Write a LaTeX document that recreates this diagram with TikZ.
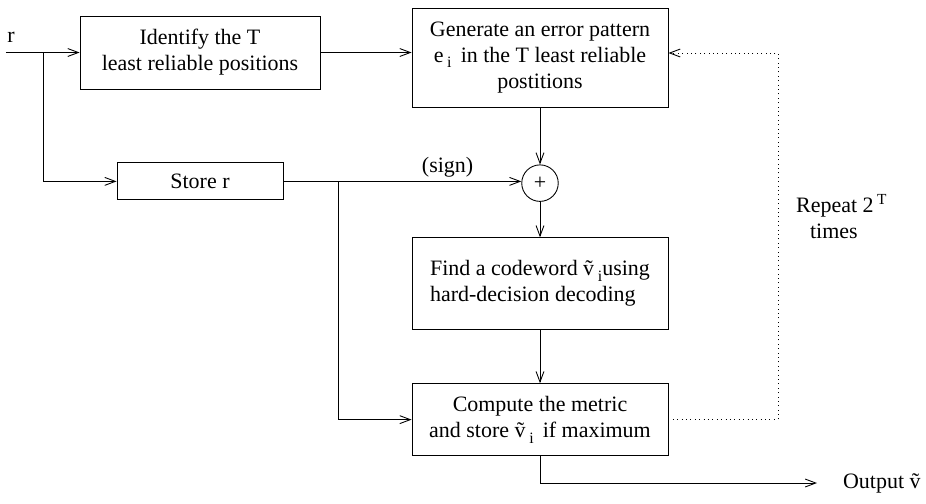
\documentclass[tikz,border=0pt]{standalone}
\usepackage{fontspec}
\setmainfont{Liberation Serif}
\usetikzlibrary{arrows.meta, positioning, calc}
\newcommand{\lowsub}[1]{\raisebox{-0.55ex}{\fontsize{9}{9}\selectfont #1}}
\tikzset{
  box/.style={rectangle, draw=black, line width=0.5pt, align=center,
              minimum width=#1, inner sep=2pt,
              font=\fontsize{12.5}{14.8}\selectfont},
  box/.default=5.12cm,
  sumnode/.style={circle, draw=black, line width=0.5pt, minimum size=0.73cm,
                  inner sep=0pt, font=\fontsize{12.5}{14.8}\selectfont},
  arr/.style={-{Straight Barb[length=6pt, width=4.5pt]}, line width=0.5pt},
  fb/.style={arr, dotted},
  lbl/.style={font=\fontsize{12.5}{14.8}\selectfont, inner sep=1pt},
}

\begin{document}
\begin{tikzpicture}
  \useasboundingbox (0,0) rectangle (18.52,-10.06);
  %% Top row
  \node[box=4.8cm, minimum height=1.46cm] (ident) at (4.0,-1.05)
    {Identify the T\\least reliable positions};
  \node[box, minimum height=1.98cm] (gen) at (10.8,-1.15)
    {Generate an error pattern\\e\,\lowsub{i}\, in the T least reliable\\postitions};
  \coordinate (rin) at (0.12,-1.05);
  \node[lbl] (rlbl) at (0.22,-0.74) {r};
  \draw[arr] (rin) -- (ident.west);
  \draw[arr] (ident.east) -- (ident.east -| gen.west);
  %% Store r and the adder
  \node[box=3.32cm, minimum height=0.74cm, below=1.46cm of ident] (store) {Store r};
  \node[sumnode, below=1.14cm of gen] (sum) {+};
  \draw[arr] ([xshift=0.74cm]rin) |- (store.west);
  \draw[arr] (store.east) -- node[lbl, pos=0.69, above=1pt] {(sign)} (store.east -| sum.west);
  \draw[arr] (gen.south) -- (sum.north);
  %% Decoding and metric
  \node[box, minimum height=1.84cm, below=0.71cm of sum] (find)
    {\begin{tabular}{@{}l@{}}Find a codeword \~{v}\,\lowsub{i}using\\hard-decision decoding\end{tabular}};
  \node[box, minimum height=1.44cm, below=1.06cm of find] (metric)
    {Compute the metric\\and store \~{v}\,\lowsub{i}\, if maximum};
  \draw[arr] (sum.south) -- (find.north);
  \draw[arr] (find.south) -- (metric.north);
  \draw[arr] ([xshift=1.1cm]store.east) |- (metric.west);
  %% Feedback loop
  \coordinate (fbtop) at (15.56,-1.06);
  \draw[fb] (metric.east) -| (fbtop) -- (fbtop -| gen.east);
  \node[lbl, align=left, anchor=west] (rep) at (15.88,-4.33)
    {Repeat 2\,\textsuperscript{T}\\\hspace{0.28cm}times};
  %% Output
  \coordinate (vout) at (16.34,-9.66);
  \draw[arr] (metric.south) |- (vout);
  \node[lbl, right=0.48cm of vout] (outlbl) {Output \~{v}};
\end{tikzpicture}
\end{document}
